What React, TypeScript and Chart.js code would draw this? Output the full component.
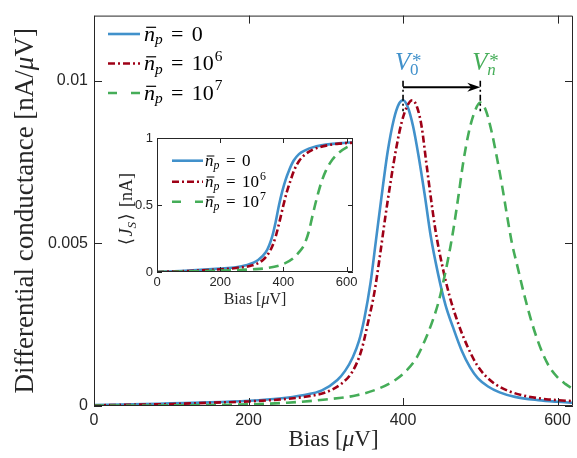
import React, { useEffect, useRef } from "react";
import { Chart, registerables } from "chart.js";

Chart.register(...registerables);

// ---------- Main panel: differential conductance [nA/μV] vs bias [μV] ----------
const biasN0 = [0, 50, 100, 150, 200, 240, 270, 295, 315, 325, 335, 343, 350, 358, 365, 372, 380, 388, 395, 400, 406, 413, 420, 428, 436, 445, 455, 465, 476, 487, 497, 510, 525, 545, 575, 600, 620];
const condN0 = [0.00003, 0.00005, 0.00008, 0.00011, 0.00016, 0.00023, 0.00033, 0.00048, 0.0008, 0.00108, 0.0015, 0.002, 0.0027, 0.0038, 0.0051, 0.0064, 0.0078, 0.0088, 0.0093, 0.0094, 0.0092, 0.0086, 0.0077, 0.0065, 0.0052, 0.0041, 0.0031, 0.0024, 0.0017, 0.00118, 0.00085, 0.0006, 0.00042, 0.00028, 0.00018, 0.00013, 0.0001];

const biasN6 = [0, 50, 100, 150, 200, 250, 280, 300, 320, 335, 346, 355, 363, 370, 377, 384, 391, 398, 405, 412, 418, 424, 430, 436, 442, 450, 460, 472, 484, 496, 507, 520, 539, 560, 585, 600, 620];
const condN6 = [0.00002, 0.00004, 0.00006, 0.0001, 0.00014, 0.00022, 0.00031, 0.00042, 0.00068, 0.00108, 0.0017, 0.0026, 0.0035, 0.0046, 0.0058, 0.0069, 0.0079, 0.0087, 0.0092, 0.0094, 0.0092, 0.0086, 0.0075, 0.0064, 0.0054, 0.0044, 0.0034, 0.0025, 0.0018, 0.00125, 0.00092, 0.00066, 0.00044, 0.0003, 0.00021, 0.00018, 0.00015];

const biasN7 = [0, 100, 200, 250, 300, 340, 370, 390, 405, 418, 428, 438, 446, 452, 459, 465, 472, 478, 485, 492, 500, 507, 514, 521, 528, 535, 541, 548, 556, 565, 573, 581, 590, 600, 610, 620];
const condN7 = [0.00001, 0.00002, 0.00005, 0.0001, 0.0002, 0.00033, 0.00055, 0.0008, 0.0011, 0.0015, 0.002, 0.0026, 0.0032, 0.0038, 0.0046, 0.0054, 0.0065, 0.0075, 0.0084, 0.009, 0.00933, 0.0091, 0.0085, 0.0077, 0.0068, 0.0058, 0.005, 0.0043, 0.0035, 0.0027, 0.0021, 0.0016, 0.00118, 0.00088, 0.00068, 0.00052];

// ---------- Inset: <J_S> [nA] vs bias [μV] ----------
const insetBiasN0 = [0, 100, 200, 250, 281, 320, 344, 355, 365, 375, 386, 396, 407, 418, 432, 449, 470, 492, 520, 555, 590, 620];
const insetJN0 = [0, 0.01, 0.025, 0.035, 0.05, 0.09, 0.147, 0.2, 0.27, 0.37, 0.5, 0.6, 0.69, 0.76, 0.83, 0.88, 0.91, 0.93, 0.945, 0.956, 0.963, 0.968];

const insetBiasN6 = [0, 100, 200, 250, 302, 335, 355, 366, 376, 388, 400, 411, 422, 434, 450, 470, 490, 513, 545, 576, 620];
const insetJN6 = [0, 0.008, 0.02, 0.03, 0.05, 0.09, 0.147, 0.2, 0.27, 0.38, 0.5, 0.6, 0.68, 0.76, 0.83, 0.88, 0.91, 0.93, 0.948, 0.958, 0.965];

const insetBiasN7 = [0, 200, 300, 350, 400, 430, 450, 465, 480, 490, 500, 510, 520, 535, 555, 575, 600, 620];
const insetJN7 = [0, 0.01, 0.02, 0.03, 0.06, 0.1, 0.15, 0.2, 0.3, 0.4, 0.5, 0.59, 0.67, 0.76, 0.84, 0.89, 0.93, 0.95];

// ---------- Labels / ticks ----------
const legendBase = ["0", "10", "10"];
const legendExp = ["", "6", "7"];
const mainXTicks = [0, 200, 400, 600];
const mainYTicks = [0, 0.005, 0.01];
const mainYTickLabels = ["0", "0.005", "0.01"];
const insetXTicks = [0, 200, 400, 600];
const insetYTicks = [0, 0.5, 1];
const insetYTickLabels = ["0", "0.5", "1"];
const peakBias = [400, 500];
const peakSubs = ["0", "n"];
const arrowLevel = 0.0098;
const markerTop = 0.01;
const markerBottom = 0.00906;

const BLUE = "#4191cb";
const RED = "#9e0016";
const GREEN = "#45ad58";
const AXIS = "#262626";
const SERIF = '"Liberation Serif", "DejaVu Serif", serif';
const SANS = '"Liberation Sans", Arial, sans-serif';

const colors = [BLUE, RED, GREEN];
const dashes = [[], [7, 3, 2, 3], [10, 6]];
const legendDashes = [[], [7, 3, 2, 3], [9, 14]];
const LW = 2.6;

const zip = (xs: number[], ys: number[]) => xs.map((x, i) => ({ x, y: ys[i] }));

type Run = { t: string; it?: boolean; s: number; dy?: number; dx?: number };
const fnt = (r: Run) => `${r.it ? "italic " : ""}${r.s}px ${SERIF}`;
function runsWidth(ctx: CanvasRenderingContext2D, runs: Run[]) {
  let w = 0;
  for (const r of runs) {
    ctx.font = fnt(r);
    w += ctx.measureText(r.t).width + (r.dx || 0);
  }
  return w;
}
function drawRuns(ctx: CanvasRenderingContext2D, runs: Run[], x: number, y: number) {
  let cx = x;
  for (const r of runs) {
    ctx.font = fnt(r);
    cx += r.dx || 0;
    ctx.fillText(r.t, cx, y + (r.dy || 0));
    cx += ctx.measureText(r.t).width;
  }
  return cx;
}

function drawNbar(ctx: CanvasRenderingContext2D, x: number, yb: number, s: number, base: string, exp: string) {
  ctx.save();
  ctx.fillStyle = "#000";
  ctx.strokeStyle = "#000";
  ctx.textBaseline = "alphabetic";
  ctx.font = `italic ${s}px ${SERIF}`;
  const nw = ctx.measureText("n").width;
  ctx.fillText("n", x, yb);
  ctx.lineWidth = Math.max(1, s * 0.055);
  ctx.beginPath();
  ctx.moveTo(x + s * 0.1, yb - s * 0.6);
  ctx.lineTo(x + nw + s * 0.05, yb - s * 0.6);
  ctx.stroke();
  let cx = x + nw;
  ctx.font = `italic ${s * 0.7}px ${SERIF}`;
  ctx.fillText("p", cx, yb + s * 0.18);
  cx += ctx.measureText("p").width + s * 0.38;
  ctx.font = `${s}px ${SERIF}`;
  ctx.fillText("=", cx, yb);
  cx += ctx.measureText("=").width + s * 0.38;
  ctx.fillText(base, cx, yb);
  cx += ctx.measureText(base).width;
  if (exp) {
    ctx.font = `${s * 0.7}px ${SERIF}`;
    ctx.fillText(exp, cx + 1, yb - s * 0.42);
  }
  ctx.restore();
}

function drawBoxAndTicks(chart: any, xt: number[], yt: number[], len: number) {
  const { ctx, chartArea: a, scales } = chart;
  ctx.save();
  ctx.strokeStyle = AXIS;
  ctx.lineWidth = 1;
  ctx.setLineDash([]);
  ctx.beginPath();
  ctx.rect(a.left + 0.5, a.top + 0.5, a.right - a.left - 1, a.bottom - a.top - 1);
  for (const v of xt) {
    const px = Math.round(scales.x.getPixelForValue(v)) + 0.5;
    ctx.moveTo(px, a.bottom);
    ctx.lineTo(px, a.bottom - len);
    ctx.moveTo(px, a.top);
    ctx.lineTo(px, a.top + len);
  }
  for (const v of yt) {
    const py = Math.round(scales.y.getPixelForValue(v)) + 0.5;
    ctx.moveTo(a.left, py);
    ctx.lineTo(a.left + len, py);
    ctx.moveTo(a.right, py);
    ctx.lineTo(a.right - len, py);
  }
  ctx.stroke();
  ctx.restore();
}

function drawLegend(ctx: CanvasRenderingContext2D, x0: number, x1: number, ys: number[], tx: number, s: number, off: number) {
  ys.forEach((y, i) => {
    ctx.save();
    ctx.strokeStyle = colors[i];
    ctx.lineWidth = LW;
    ctx.setLineDash(legendDashes[i]);
    ctx.beginPath();
    ctx.moveTo(x0, y);
    ctx.lineTo(x1, y);
    ctx.stroke();
    ctx.restore();
    drawNbar(ctx, tx, y + off, s, legendBase[i], legendExp[i]);
  });
}

const mainDecor = {
  id: "mainDecor",
  afterDatasetsDraw(chart: any) {
    const { ctx, chartArea: a, scales } = chart;
    const { x, y } = scales;
    drawBoxAndTicks(chart, mainXTicks, mainYTicks, 8);

    // markers and arrow
    ctx.save();
    ctx.strokeStyle = "#000";
    ctx.fillStyle = "#000";
    ctx.lineWidth = 1.6;
    ctx.setLineDash([6, 3, 2, 3]);
    ctx.beginPath();
    for (const b of peakBias) {
      const px = x.getPixelForValue(b);
      ctx.moveTo(px, y.getPixelForValue(markerTop));
      ctx.lineTo(px, y.getPixelForValue(markerBottom));
    }
    ctx.stroke();
    ctx.setLineDash([]);
    const ay = y.getPixelForValue(arrowLevel);
    const p0 = x.getPixelForValue(peakBias[0]);
    const p1 = x.getPixelForValue(peakBias[1]);
    ctx.lineWidth = 2;
    ctx.beginPath();
    ctx.moveTo(p0, ay);
    ctx.lineTo(p1 - 8, ay);
    ctx.stroke();
    ctx.beginPath();
    ctx.moveTo(p1, ay);
    ctx.lineTo(p1 - 13, ay - 4.5);
    ctx.lineTo(p1 - 9, ay);
    ctx.lineTo(p1 - 13, ay + 4.5);
    ctx.closePath();
    ctx.fill();
    ctx.restore();

    // V labels
    peakBias.forEach((b, i) => {
      const px = x.getPixelForValue(b);
      ctx.save();
      ctx.fillStyle = i === 0 ? BLUE : GREEN;
      ctx.textBaseline = "alphabetic";
      ctx.font = `italic 25px ${SERIF}`;
      ctx.fillText("V", px - 8, ay - 17);
      ctx.font = `${i === 0 ? "" : "italic "}17px ${SERIF}`;
      ctx.fillText(peakSubs[i], px + 7, ay - 12);
      ctx.font = `19px ${SERIF}`;
      ctx.fillText("*", px + 9, ay - 20);
      ctx.restore();
    });

    // legend
    drawLegend(ctx, 108, 140, [34, 63.5, 93], 144, 22, 6.5);

    // axis titles
    ctx.save();
    ctx.fillStyle = AXIS;
    ctx.textBaseline = "alphabetic";
    const xr: Run[] = [{ t: "Bias [", s: 23 }, { t: "μ", it: true, s: 23 }, { t: "V]", s: 23 }];
    const xw = runsWidth(ctx, xr);
    drawRuns(ctx, xr, (a.left + a.right) / 2 - xw / 2, 446);
    const yr: Run[] = [{ t: "Differential conductance [nA/", s: 27 }, { t: "μ", it: true, s: 27 }, { t: "V]", s: 27 }];
    const yw = runsWidth(ctx, yr);
    ctx.translate(33, (a.top + a.bottom) / 2);
    ctx.rotate(-Math.PI / 2);
    drawRuns(ctx, yr, -yw / 2, 0);
    ctx.restore();
  },
};

const insetDecor = {
  id: "insetDecor",
  beforeDraw(chart: any) {
    const { ctx, chartArea: a } = chart;
    ctx.save();
    ctx.fillStyle = "#fff";
    ctx.fillRect(a.left, a.top, a.right - a.left, a.bottom - a.top);
    ctx.restore();
  },
  afterDatasetsDraw(chart: any) {
    const { ctx, chartArea: a } = chart;
    drawBoxAndTicks(chart, insetXTicks, insetYTicks, 5);
    drawLegend(ctx, 72, 103, [35.7, 56.7, 76.7], 105, 17, 5.5);
    ctx.save();
    ctx.fillStyle = AXIS;
    ctx.textBaseline = "alphabetic";
    const xr: Run[] = [{ t: "Bias [", s: 16 }, { t: "μ", it: true, s: 16 }, { t: "V]", s: 16 }];
    const xw = runsWidth(ctx, xr);
    drawRuns(ctx, xr, (a.left + a.right) / 2 - xw / 2, 179);
    const yr: Run[] = [
      { t: "⟨", s: 18 },
      { t: "J", it: true, s: 18, dx: 1.5 },
      { t: "S", it: true, s: 13, dy: 3.5 },
      { t: "⟩", s: 18, dx: 1.5 },
      { t: " [nA]", s: 18, dx: 2 },
    ];
    const yw = runsWidth(ctx, yr);
    ctx.translate(32, (a.top + a.bottom) / 2 + 4);
    ctx.rotate(-Math.PI / 2);
    drawRuns(ctx, yr, -yw / 2, 0);
    ctx.restore();
  },
};

function lineDs(data: { x: number; y: number }[], i: number) {
  return {
    data,
    borderColor: colors[i],
    borderWidth: LW,
    borderDash: dashes[i],
    pointRadius: 0,
    fill: false,
    cubicInterpolationMode: "monotone" as const,
    order: 3 - i,
  };
}

function scaleOpts(min: number, max: number, ticks: number[], labels: string[] | null, size: number, pad: number, fit: (s: any) => void) {
  return {
    type: "linear" as const,
    min,
    max,
    grid: { display: false, drawTicks: false },
    border: { display: false },
    ticks: {
      font: { family: SANS, size },
      color: AXIS,
      padding: pad,
      maxRotation: 0,
      autoSkip: false,
      callback: (v: any, idx: number) => (labels ? labels[idx] : String(v)),
    },
    afterBuildTicks: (s: any) => {
      s.ticks = ticks.map((v) => ({ value: v }));
    },
    afterFit: fit,
  };
}

export default function App() {
  const mainRef = useRef<HTMLCanvasElement>(null);
  const insetRef = useRef<HTMLCanvasElement>(null);

  useEffect(() => {
    document.body.style.margin = "0";
    const main = new Chart(mainRef.current!, {
      type: "line",
      data: {
        datasets: [
          lineDs(zip(biasN0, condN0), 0),
          lineDs(zip(biasN6, condN6), 1),
          lineDs(zip(biasN7, condN7), 2),
        ],
      },
      options: {
        responsive: false,
        animation: false,
        devicePixelRatio: 1,
        layout: { padding: { left: 0, right: 4, top: 8, bottom: 0 } },
        plugins: { legend: { display: false }, tooltip: { enabled: false } },
        scales: {
          x: scaleOpts(0, 620, mainXTicks, null, 16, 5, (s: any) => { s.height = 52; }),
          y: scaleOpts(0, 0.012, mainYTicks, mainYTickLabels, 16, 6, (s: any) => { s.width = 94; }),
        },
      },
      plugins: [mainDecor],
    } as any);

    const inset = new Chart(insetRef.current!, {
      type: "line",
      data: {
        datasets: [
          lineDs(zip(insetBiasN0, insetJN0), 0),
          lineDs(zip(insetBiasN6, insetJN6), 1),
          lineDs(zip(insetBiasN7, insetJN7), 2),
        ],
      },
      options: {
        responsive: false,
        animation: false,
        devicePixelRatio: 1,
        layout: { padding: { left: 0, right: 9, top: 13, bottom: 0 } },
        plugins: { legend: { display: false }, tooltip: { enabled: false } },
        scales: {
          x: scaleOpts(0, 620, insetXTicks, null, 13, 3, (s: any) => { s.height = 43; }),
          y: scaleOpts(0, 1, insetYTicks, insetYTickLabels, 13, 4, (s: any) => { s.width = 57; }),
        },
      },
      plugins: [insetDecor],
    } as any);

    return () => {
      main.destroy();
      inset.destroy();
    };
  }, []);

  return (
    <div style={{ position: "absolute", left: 0, top: 0, width: 577, height: 458, background: "#fff" }}>
      <canvas ref={mainRef} width={577} height={458} style={{ position: "absolute", left: 0, top: 0 }} />
      <canvas ref={insetRef} width={262} height={190} style={{ position: "absolute", left: 100, top: 125 }} />
    </div>
  );
}
